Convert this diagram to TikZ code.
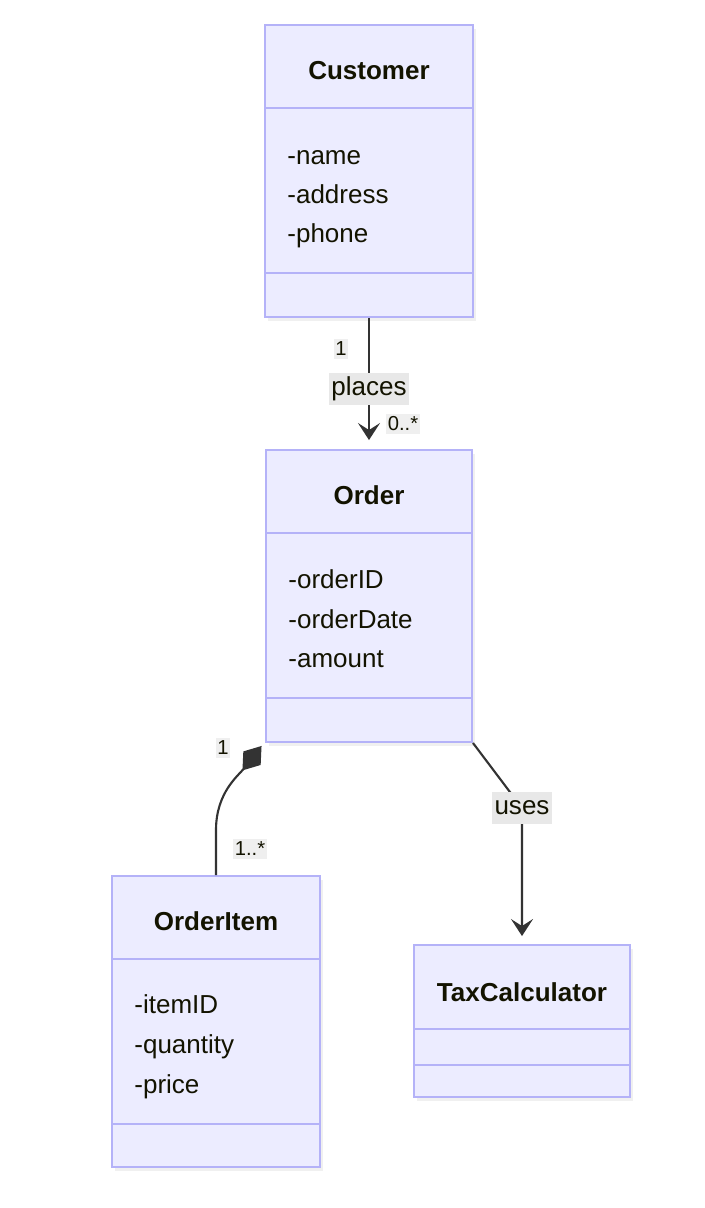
\documentclass[tikz,border=0pt]{standalone}
\usepackage{fontspec}
\setmainfont{Liberation Sans}
\usetikzlibrary{arrows.meta,shadows}
\definecolor{clsfill}{RGB}{236,236,255}
\definecolor{clsline}{RGB}{180,178,248}
\definecolor{lblfill}{RGB}{232,232,232}
\definecolor{edgeline}{RGB}{51,51,51}
\definecolor{txt}{RGB}{19,19,0}
\tikzset{
  cls/.style={draw=clsline, fill=clsfill, line width=1.1pt, inner sep=0pt,
              drop shadow={opacity=0.12, shadow xshift=0.06cm, shadow yshift=-0.08cm}},
  divider/.style={draw=clsline, line width=1.1pt},
  title/.style={font=\fontsize{14.8}{18}\selectfont\bfseries, text=txt},
  attr/.style={font=\fontsize{14.8}{18}\selectfont, text=txt, anchor=west, inner sep=0pt,
               text height=1.9ex, text depth=0.5ex},
  edgelabel/.style={fill=lblfill, font=\fontsize{14.8}{18}\selectfont, text=txt,
                    inner xsep=1.5pt, inner ysep=0pt, text height=2.4ex, text depth=1ex},
  mult/.style={fill=lblfill, fill opacity=0.7, text opacity=1,
               font=\fontsize{11.5}{13}\selectfont, text=txt, inner xsep=1pt, inner ysep=1.5pt},
  assoc/.style={draw=edgeline, line width=1.2pt,
                -{Stealth[length=0.34cm, width=0.44cm, inset=0.14cm]}},
  comp/.style={draw=edgeline, line width=1.2pt,
               {Diamond[length=0.62cm, width=0.44cm, fill=edgeline]}-},
}

\begin{document}
\begin{tikzpicture}
\useasboundingbox (0,0) rectangle (14.08,-24.16);

%% Customer
\node[cls, minimum width=4.16cm, minimum height=5.84cm] (customer) at (7.38,-3.42) {};
\draw[divider] ([yshift=-1.68cm]customer.north west) -- ([yshift=-1.68cm]customer.north east);
\draw[divider] ([yshift=0.90cm]customer.south west) -- ([yshift=0.90cm]customer.south east);
\node[title] (customerTitle) at ([yshift=-0.94cm]customer.north) {Customer};
\foreach \a/\y in {name/2.68, address/3.46, phone/4.24}
  \node[attr] (customer-\a) at ([xshift=0.46cm, yshift=-\y cm]customer.north west) {-\a};

%% Order
\node[cls, minimum width=4.12cm, minimum height=5.84cm] (order) at (7.38,-11.92) {};
\draw[divider] ([yshift=-1.68cm]order.north west) -- ([yshift=-1.68cm]order.north east);
\draw[divider] ([yshift=0.90cm]order.south west) -- ([yshift=0.90cm]order.south east);
\node[title] (orderTitle) at ([yshift=-0.92cm]order.north) {Order};
\foreach \a/\y in {orderID/2.66, orderDate/3.46, amount/4.24}
  \node[attr] (order-\a) at ([xshift=0.46cm, yshift=-\y cm]order.north west) {-\a};

%% OrderItem
\node[cls, minimum width=4.16cm, minimum height=5.82cm] (orderItem) at (4.32,-20.43) {};
\draw[divider] ([yshift=-1.68cm]orderItem.north west) -- ([yshift=-1.68cm]orderItem.north east);
\draw[divider] ([yshift=0.88cm]orderItem.south west) -- ([yshift=0.88cm]orderItem.south east);
\node[title] (orderItemTitle) at ([yshift=-0.92cm]orderItem.north) {OrderItem};
\foreach \a/\y in {itemID/2.64, quantity/3.44, price/4.24}
  \node[attr] (orderItem-\a) at ([xshift=0.46cm, yshift=-\y cm]orderItem.north west) {-\a};

%% TaxCalculator
\node[cls, minimum width=4.32cm, minimum height=3.04cm] (tax) at (10.44,-20.42) {};
\draw[divider] ([yshift=-1.70cm]tax.north west) -- ([yshift=-1.70cm]tax.north east);
\draw[divider] ([yshift=0.66cm]tax.south west) -- ([yshift=0.66cm]tax.south east);
\node[title] (taxTitle) at ([yshift=-0.96cm]tax.north) {TaxCalculator};

%% Customer -> Order
\draw[assoc, shorten >=0.18cm] (customer.south) -- (order.north)
  node[edgelabel, pos=0.54] (places) {places};
\node[mult] (placesFrom) at (6.82,-6.98) {1};
\node[mult] (placesTo) at (8.06,-8.48) {0..*};

%% Order <>- OrderItem
\coordinate (compTip) at ([xshift=-0.07cm, yshift=-0.06cm]order.south west);
\coordinate (compBend) at (4.32,-16.6);
\draw[comp] (compTip) to[out=232, in=90] (compBend) -- (orderItem.north);
\node[mult] (compFrom) at (4.46,-14.96) {1};
\node[mult] (compTo) at (5.00,-16.98) {1..*};

%% Order -> TaxCalculator
\coordinate (usesPt) at (10.44,-16.16);
\draw[assoc, shorten >=0.16cm] (order.south east) -- (usesPt) -- (tax.north);
\node[edgelabel] (uses) at (usesPt) {uses};

\end{tikzpicture}
\end{document}
